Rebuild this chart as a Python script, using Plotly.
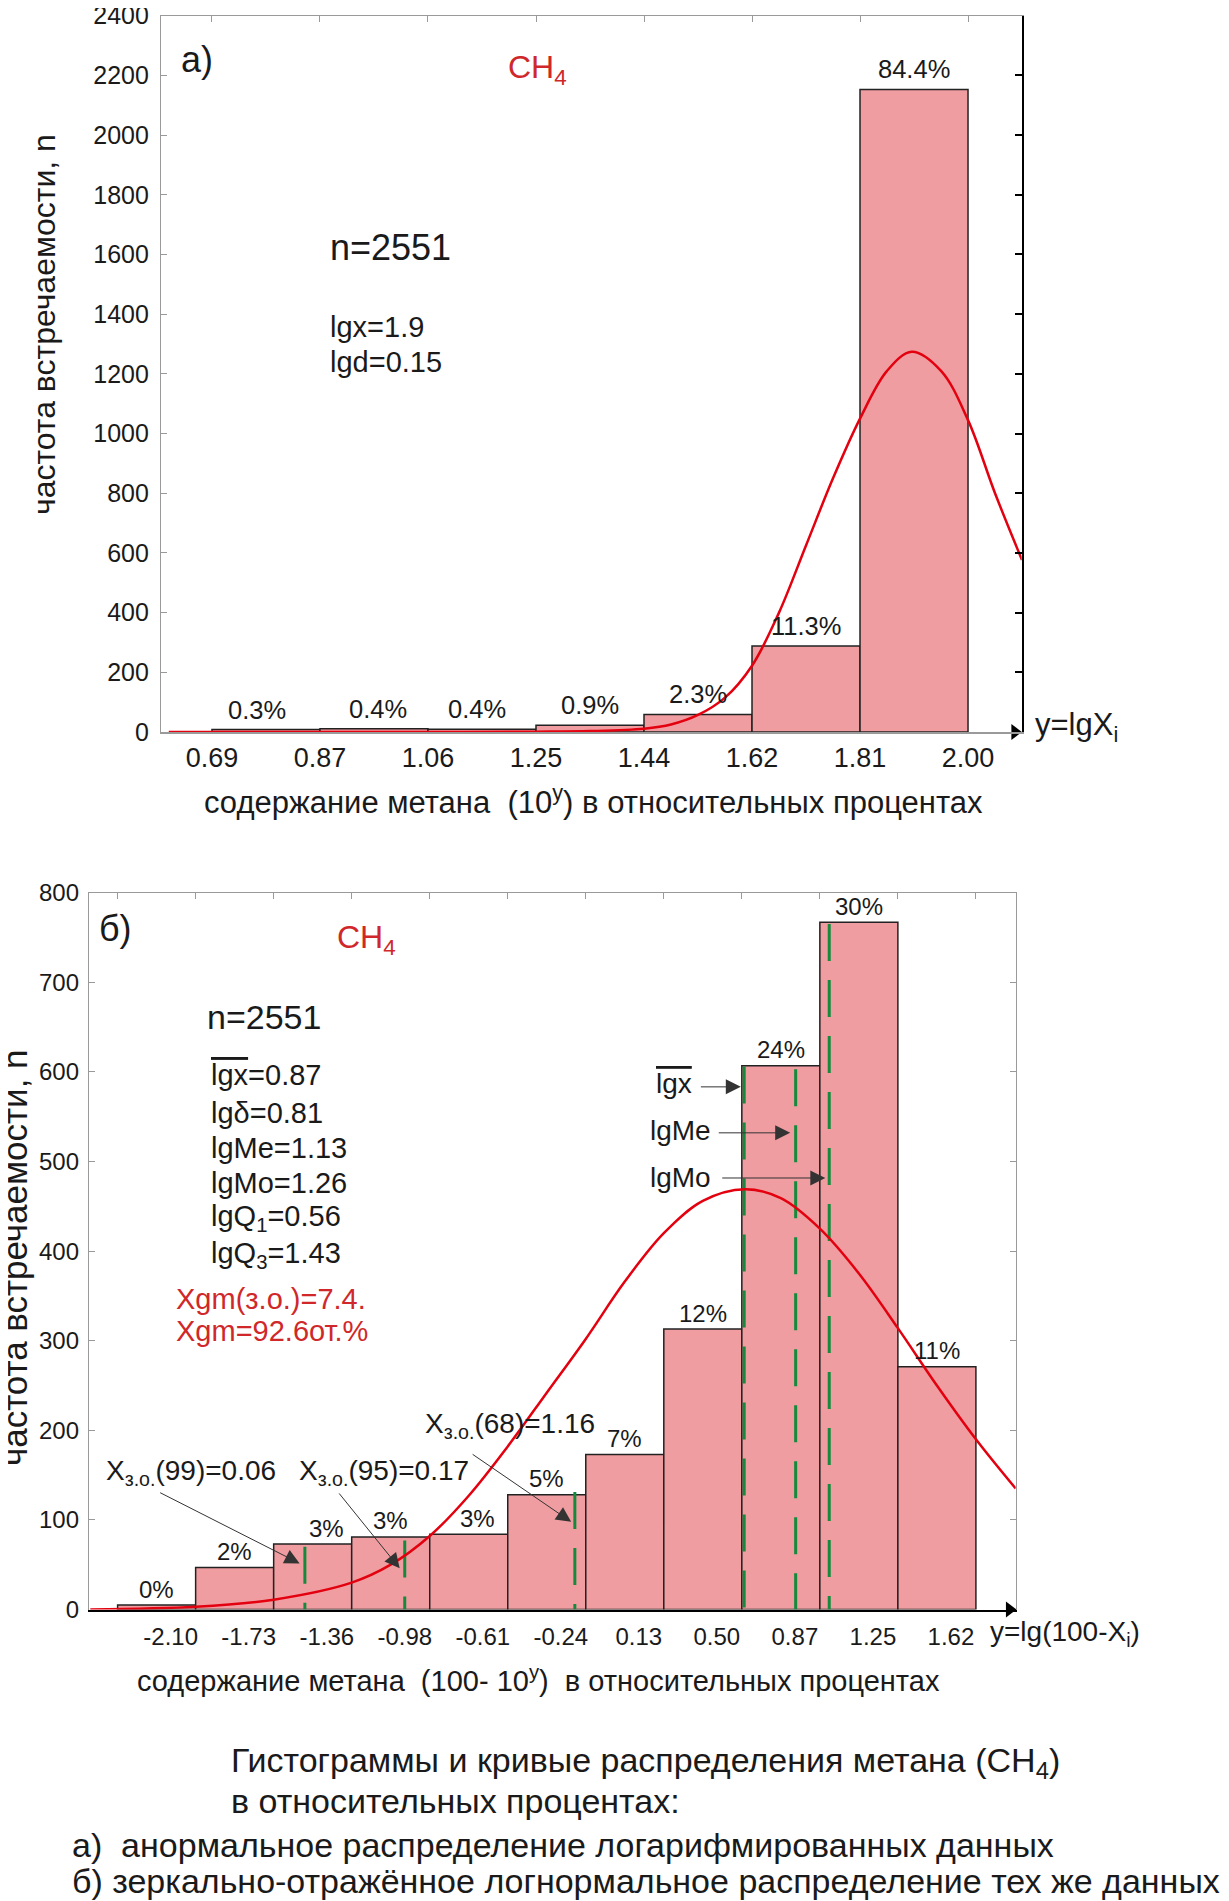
import plotly.graph_objects as go

# page body has an 8px margin: figure drawn from (8,8); all layout pixel
# positions below are given in window pixels and converted with OFF.
WIN_W, WIN_H = 1229, 1901
OFF = 8
FW, FH = WIN_W - OFF, WIN_H - OFF
FONT = "Liberation Sans, Arial, sans-serif"

# ---------------- chart (а) data ----------------
a_edge_labels = ["0.69", "0.87", "1.06", "1.25", "1.44", "1.62", "1.81", "2.00"]
a_counts = [8, 11, 9, 23, 59, 288, 2153]
a_pct = ["0.3%", "0.4%", "0.4%", "0.9%", "2.3%", "11.3%", "84.4%"]
# fitted curve (x in bin-index units, y in counts)
a_curve_x = [-0.4, 1.0, 2.0, 3.0, 3.5, 4.0, 4.25, 4.5, 4.75, 5.0, 5.25, 5.5, 5.75,
             6.0, 6.25, 6.48, 6.75, 7.0, 7.25, 7.5]
a_curve_y = [0, 0, 0, 1, 3, 11, 25, 57, 115, 222, 400, 625, 850,
             1050, 1210, 1274, 1210, 1045, 800, 576]
a_yticks = list(range(0, 2401, 200))

# ---------------- chart (б) data ----------------
b_tick_labels = ["-2.10", "-1.73", "-1.36", "-0.98", "-0.61", "-0.24", "0.13", "0.50", "0.87", "1.25", "1.62"]
b_counts = [5, 47, 73, 81, 84, 128, 173, 313, 607, 767, 271]
b_pct = ["0%", "2%", "3%", "3%", "3%", "5%", "7%", "12%", "24%", "30%", "11%"]
b_curve_x = [-0.35, 1.0, 2.0, 3.0, 3.5, 4.0, 4.5, 5.0, 5.5, 6.0, 6.5, 7.0, 7.5, 8.04,
             8.5, 9.0, 9.5, 10.0, 10.5, 11.0, 11.51]
b_curve_y = [0, 3, 11, 30, 50, 82, 127, 182, 242, 302, 366, 420, 456, 469,
             459, 425, 375, 314, 250, 190, 135]
b_mark_pos = [2.40, 3.68, 5.86, 8.03, 8.69, 9.12]   # green dashed markers
b_mark_top = [70, 77, 131, 606, 603, 765]
b_yticks = list(range(0, 801, 100))

# ---------------- styling / geometry ----------------
PINK = "#F09DA1"
RED_LINE = "#E3000F"
RED_TXT = "#D0282A"
GREEN = "#138A3C"
GREY = "#9A9A9A"


def px(x, y):
    return (x - OFF) / FW, 1 - (y - OFF) / FH


def hdom(x0, x1):
    return [(x0 - OFF) / FW, (x1 - OFF) / FW]


def vdom(ytop, ybot):
    return [1 - (ybot - OFF) / FH, 1 - (ytop - OFF) / FH]


xa_dom = hdom(161, 1021.7)
ya_dom = vdom(15.7, 732)
xb_dom = hdom(88.9, 1015.7)
yb_dom = vdom(892.7, 1609.5)
a_xr = [-0.472, 7.497]
b_xr = [-0.368, 11.51]

fig = go.Figure()

# ---- chart а
a_centers = [i + 0.5 for i in range(len(a_counts))]
fig.add_trace(go.Bar(x=a_centers, y=a_counts, width=1.0, xaxis="x", yaxis="y",
                     marker=dict(color=PINK, line=dict(color="#222", width=1.5)),
                     showlegend=False, hoverinfo="skip"))
fig.add_trace(go.Scatter(x=a_curve_x, y=a_curve_y, xaxis="x", yaxis="y", mode="lines",
                         line=dict(color=RED_LINE, width=2.5, shape="spline", smoothing=1),
                         cliponaxis=False, showlegend=False, hoverinfo="skip"))
fig.add_trace(go.Scatter(x=[a_xr[1] - 0.063], y=[0], xaxis="x", yaxis="y", mode="markers",
                         marker=dict(symbol="triangle-right", size=14, color="black"),
                         cliponaxis=False, showlegend=False, hoverinfo="skip"))
# dummy traces for auxiliary axes
fig.add_trace(go.Scatter(x=[0], y=[0], xaxis="x3", yaxis="y", mode="markers",
                         marker=dict(opacity=0), showlegend=False, hoverinfo="skip"))
fig.add_trace(go.Scatter(x=[0], y=[0], xaxis="x", yaxis="y3", mode="markers",
                         marker=dict(opacity=0), showlegend=False, hoverinfo="skip"))

# ---- chart б
b_centers = [i + 0.5 for i in range(len(b_counts))]
fig.add_trace(go.Bar(x=b_centers, y=b_counts, width=1.0, xaxis="x2", yaxis="y2",
                     marker=dict(color=PINK, line=dict(color="#222", width=1.5)),
                     showlegend=False, hoverinfo="skip"))
for p, t in zip(b_mark_pos, b_mark_top):
    fig.add_trace(go.Scatter(x=[p, p], y=[t, 0], xaxis="x2", yaxis="y2", mode="lines",
                             line=dict(color=GREEN, width=3, dash="37px,19px"),
                             showlegend=False, hoverinfo="skip"))
fig.add_trace(go.Scatter(x=b_curve_x, y=b_curve_y, xaxis="x2", yaxis="y2", mode="lines",
                         line=dict(color=RED_LINE, width=2.5, shape="spline", smoothing=1),
                         cliponaxis=False, showlegend=False, hoverinfo="skip"))
fig.add_trace(go.Scatter(x=[b_xr[1] - 0.08], y=[0], xaxis="x2", yaxis="y2", mode="markers",
                         marker=dict(symbol="triangle-right", size=14, color="black"),
                         cliponaxis=False, showlegend=False, hoverinfo="skip"))
fig.add_trace(go.Scatter(x=[0], y=[0], xaxis="x4", yaxis="y2", mode="markers",
                         marker=dict(opacity=0), showlegend=False, hoverinfo="skip"))

ann = []


def text(x, y, s, size, color="#1a1a1a", xanchor="left", angle=0):
    X, Y = px(x, y)
    ann.append(dict(x=X, y=Y, xref="paper", yref="paper", text=s, showarrow=False,
                    xanchor=xanchor, yanchor="middle", textangle=angle,
                    font=dict(family=FONT, size=size, color=color)))


# chart а texts
text(179, 60, "а)", 36)
text(506, 70, "CH<sub>4</sub>", 32, RED_TXT)
text(328, 247, "n=2551", 36)
text(328, 327, "lgx=1.9", 29)
text(328, 362, "lgd=0.15", 29)
text(1033, 727, "y=lgX<sub>i</sub>", 31)
text(593, 800, "содержание метана  (10<sup>y</sup>) в относительных процентах", 31, xanchor="center")
text(44, 325, "частота встречаемости, n", 32, xanchor="center", angle=-90)

a_pct_dx = [-9, 4, -5, 0, 0, 0, 0]
for c, v, s, dx in zip(a_centers, a_counts, a_pct, a_pct_dx):
    ann.append(dict(x=c, y=v, xref="x", yref="y", text=s, showarrow=False,
                    xanchor="center", yanchor="middle", yshift=20, xshift=dx,
                    font=dict(family=FONT, size=25.5, color="#1a1a1a")))

# chart б texts
text(97, 929, "б)", 36)
text(335, 940, "CH<sub>4</sub>", 32, RED_TXT)
text(205, 1017, "n=2551", 34)
stats = ['<span style="text-decoration:overline">lgx</span>=0.87', "lgδ=0.81", "lgMe=1.13",
         "lgMo=1.26", "lgQ<sub>1</sub>=0.56", "lgQ<sub>3</sub>=1.43"]
stat_y = [1075, 1113, 1148, 1183, 1218, 1255]
for s, yy in zip(stats, stat_y):
    text(209, yy, s, 29)
text(174, 1299, "Xgm(з.о.)=7.4.", 29, RED_TXT)
text(174, 1331, "Xgm=92.6от.%", 29, RED_TXT)
text(104, 1472, "X<sub>з.о.</sub>(99)=0.06", 28)
text(297, 1472, "X<sub>з.о.</sub>(95)=0.17", 28)
text(423, 1425, "X<sub>з.о.</sub>(68)=1.16", 28)
text(694, 1083, '<span style="text-decoration:overline">lgx</span>', 28, xanchor="right")
text(713, 1130, "lgMe", 28, xanchor="right")
text(713, 1177, "lgMo", 28, xanchor="right")
text(988, 1633, "y=lg(100-X<sub>i</sub>)", 28)
text(538, 1679, "содержание метана  (100- 10<sup>y</sup>)  в относительных процентах", 29, xanchor="center")
text(14, 1258, "частота встречаемости, n", 35, xanchor="center", angle=-90)

b_pct_dx = [0, 0, 14, 0, 9, 0, 0, 0, 0, 0, 0]
for c, v, s, dx in zip(b_centers, b_counts, b_pct, b_pct_dx):
    ann.append(dict(x=c, y=v, xref="x2", yref="y2", text=s, showarrow=False,
                    xanchor="center", yanchor="middle", yshift=16, xshift=dx,
                    font=dict(family=FONT, size=24, color="#1a1a1a")))

# leader arrows (tail -> tip) in chart б coordinates
arrows = [((0.526, 131.2), (2.333, 51.4)),
          ((2.824, 131.2), (3.615, 45.9)),
          ((4.531, 174.3), (5.813, 97.8)),
          ((7.456, 583.3), (7.987, 583.3)),
          ((7.685, 532.0), (8.62, 532.0)),
          ((7.73, 481.6), (9.07, 481.6))]
for (tx, ty), (hx, hy) in arrows:
    ann.append(dict(x=hx, y=hy, ax=tx, ay=ty, xref="x2", yref="y2", axref="x2", ayref="y2",
                    text="", showarrow=True, arrowhead=2, arrowsize=3, arrowwidth=1,
                    arrowcolor="#333"))

# caption
text(229, 1762, "Гистограммы и кривые распределения метана (CH<sub>4</sub>)", 34)
text(229, 1801, "в относительных процентах:", 34)
text(70, 1845, "а)  анормальное распределение логарифмированных данных", 34)
text(70, 1881, "б) зеркально-отражённое логнормальное распределение тех же данных", 34)

tickfont_a = dict(family=FONT, size=25, color="#1a1a1a")
tickfont_ax = dict(family=FONT, size=27, color="#1a1a1a")
tickfont_b = dict(family=FONT, size=24, color="#1a1a1a")

common = dict(showgrid=False, zeroline=False, automargin=False, ticklabeloverflow="allow")

fig.update_layout(
    width=FW, height=FH, margin=dict(l=0, r=0, t=0, b=0, autoexpand=False),
    paper_bgcolor="white", plot_bgcolor="white", barmode="overlay",
    annotations=ann,
    xaxis=dict(domain=xa_dom, anchor="y", range=a_xr, tickvals=list(range(8)), ticktext=a_edge_labels,
               ticks="", showline=True, linecolor=GREY, linewidth=1.5,
               tickfont=tickfont_ax, ticklabelstandoff=1, **common),
    xaxis3=dict(overlaying="x", side="top", anchor="y", range=a_xr, tickvals=list(range(8)),
                ticks="inside", ticklen=6, tickcolor=GREY, showticklabels=False, showline=True,
                linecolor=GREY, linewidth=1.2, **common),
    yaxis=dict(domain=ya_dom, anchor="x", range=[0, 2400], tickvals=a_yticks, ticks="inside", ticklen=6,
               tickcolor=GREY, showline=True, linecolor=GREY, linewidth=1.2,
               tickfont=tickfont_a, ticklabelstandoff=6, **common),
    yaxis3=dict(overlaying="y", side="right", anchor="x", range=[0, 2400], tickvals=a_yticks,
                ticks="inside", ticklen=7, tickwidth=1.5, tickcolor="black", showline=True,
                linecolor="black", linewidth=2, showticklabels=False, **common),
    xaxis2=dict(domain=xb_dom, anchor="y2", range=b_xr, tickvals=[i + 0.68 for i in range(11)],
                ticktext=b_tick_labels, ticks="", showline=True, linecolor="black", linewidth=1.5,
                tickfont=tickfont_b, ticklabelstandoff=5, **common),
    xaxis4=dict(overlaying="x2", side="top", anchor="y2", range=b_xr, tickvals=list(range(12)),
                ticks="inside", ticklen=6, tickcolor=GREY, showticklabels=False, showline=True,
                linecolor=GREY, linewidth=1.2, **common),
    yaxis2=dict(domain=yb_dom, anchor="x2", range=[0, 800], tickvals=b_yticks, ticks="inside", ticklen=6,
                tickcolor=GREY, showline=True, linecolor=GREY, linewidth=1.2, mirror="ticks",
                tickfont=tickfont_b, ticklabelstandoff=4, **common),
)

fig.write_html("out.html")
